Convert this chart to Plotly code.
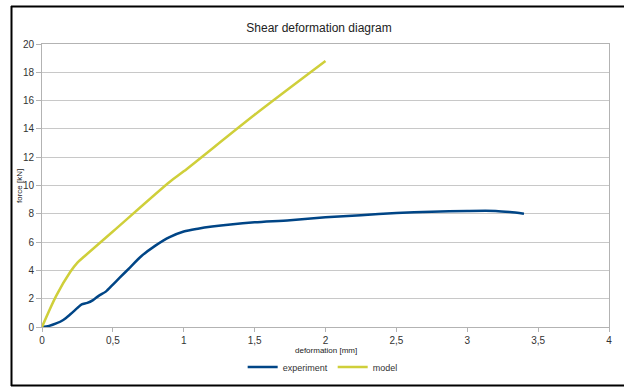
import plotly.graph_objects as go

exp_x = [0, 0.05, 0.1, 0.15, 0.2, 0.25, 0.28, 0.32, 0.36, 0.4, 0.45, 0.5, 0.55, 0.62, 0.7, 0.8, 0.9, 1.0, 1.1, 1.2, 1.33, 1.5, 1.75, 2.0, 2.25, 2.5, 2.75, 3.0, 3.2, 3.3, 3.4]
exp_y = [0, 0.08, 0.25, 0.5, 0.9, 1.35, 1.6, 1.7, 1.9, 2.2, 2.5, 3.0, 3.5, 4.2, 5.0, 5.75, 6.35, 6.75, 6.95, 7.1, 7.25, 7.4, 7.55, 7.75, 7.9, 8.05, 8.15, 8.2, 8.2, 8.12, 8.0]
model_x = [0, 0.1, 0.2, 0.25, 0.3, 0.5, 0.9, 1.0, 1.5, 2.0]
model_y = [0, 2.2, 3.9, 4.55, 5.0, 6.75, 10.25, 11.0, 15.0, 18.8]

x_ticks = [0, 0.5, 1, 1.5, 2, 2.5, 3, 3.5, 4]
x_ticktext = ["0", "0,5", "1", "1,5", "2", "2,5", "3", "3,5", "4"]
y_ticks = list(range(0, 21, 2))

fig = go.Figure()
fig.add_trace(go.Scatter(x=exp_x, y=exp_y, mode="lines", name="experiment",
                         line=dict(color="#004586", width=2.5, shape="spline", smoothing=0.8)))
fig.add_trace(go.Scatter(x=model_x, y=model_y, mode="lines", name="model",
                         line=dict(color="#cfcf3a", width=2.5, shape="spline", smoothing=0.8)))

W, H = 624, 387
L, R, T, B = 42, 609, 44, 327
pw, ph = R - L, B - T

def px(x):
    return (x - L) / pw

def py(y):
    return (B - y) / ph

border = dict(color="black", width=2)
shapes = [
    dict(type="line", xref="paper", yref="paper", x0=px(11.5), x1=px(11.5), y0=py(6), y1=py(386), line=border),
    dict(type="line", xref="paper", yref="paper", x0=px(11), x1=px(624), y0=py(6.5), y1=py(6.5), line=border),
    dict(type="line", xref="paper", yref="paper", x0=px(11), x1=px(624), y0=py(385.5), y1=py(385.5), line=border),
]

annotations = [
    dict(text="deformation [mm]", xref="paper", yref="paper", x=0.5, y=py(350),
         xanchor="center", yanchor="middle", showarrow=False, font=dict(size=8, color="#222222")),
    dict(text="force [kN]", xref="paper", yref="paper", x=px(19), y=py(186), textangle=-90,
         xanchor="center", yanchor="middle", showarrow=False, font=dict(size=8, color="#222222")),
]

fig.update_layout(
    width=W, height=H,
    margin=dict(l=L, r=W - R, t=T, b=H - B, autoexpand=False),
    paper_bgcolor="white", plot_bgcolor="white",
    font=dict(family="Liberation Sans, Arial, sans-serif", color="#333333"),
    title=dict(text="Shear deformation diagram", x=319 / W, xanchor="center",
               y=1 - 28 / H, yanchor="middle", font=dict(size=12, color="#222222")),
    showlegend=True,
    legend=dict(orientation="h", x=0.495, xanchor="center", y=py(367), yanchor="middle",
                font=dict(size=9, color="#333333"), itemwidth=30, tracegroupgap=0),
    shapes=shapes,
    annotations=annotations,
)
fig.update_xaxes(range=[0, 4], tickvals=x_ticks, ticktext=x_ticktext, showgrid=False,
                 showline=True, linecolor="#b3b3b3", linewidth=1, mirror=True,
                 ticks="outside", ticklen=4, tickcolor="#b3b3b3", automargin=False,
                 tickfont=dict(size=10, color="#333333"), zeroline=False)
fig.update_yaxes(range=[0, 20], tickvals=y_ticks, showgrid=True, gridcolor="#c8c8c8",
                 showline=True, linecolor="#b3b3b3", linewidth=1, mirror=True,
                 ticks="outside", ticklen=5, tickcolor="#b3b3b3", automargin=False,
                 tickfont=dict(size=10, color="#333333"), zeroline=False)

post = (
    "document.documentElement.style.overflow='hidden';"
    "document.body.style.overflow='hidden';"
    "document.body.style.margin='0';"
    "document.body.style.background='white';"
)
fig.write_html("out.html", config={"displayModeBar": False}, post_script=post)
